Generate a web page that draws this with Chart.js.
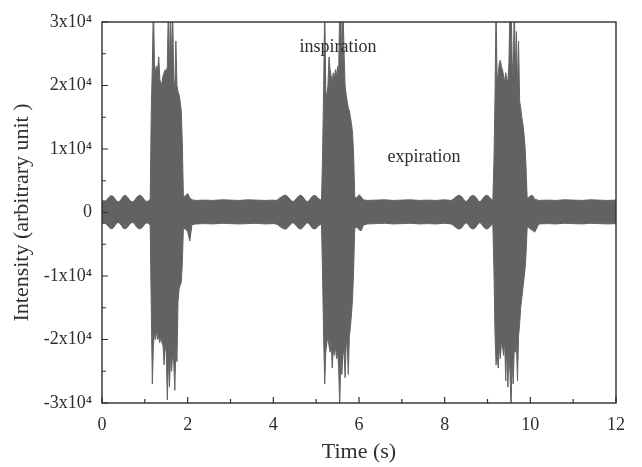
<!DOCTYPE html>
<html>
<head>
<meta charset="utf-8">
<script src="https://cdn.jsdelivr.net/npm/chart.js@4/dist/chart.umd.min.js"></script>
<style>
  html, body { margin: 0; padding: 0; background: #fff; }
  canvas { display: block; }
</style>
</head>
<body>
<canvas id="breathChart" width="642" height="467"></canvas>
<script>
// sample times (s), one line per part of the recording
const timeS = [
  0, 0.05, 0.1, 0.15, 0.2, 0.25, 0.3, 0.35, 0.4, 0.45, 0.5, 0.55, 0.6, 0.65, 0.7, 0.75, 0.8, 0.85, 0.9, 0.95, 1.0, 1.05, 1.1,
  1.125, 1.15, 1.175, 1.2, 1.225, 1.25, 1.275, 1.3, 1.325, 1.35, 1.375, 1.4, 1.425, 1.45, 1.475, 1.5, 1.525, 1.55, 1.575, 1.6, 1.625, 1.65, 1.675, 1.7, 1.725, 1.75, 1.775, 1.8, 1.825, 1.85, 1.875, 1.9,
  1.95, 2.0, 2.05, 2.1, 2.2,
  2.4, 2.6, 2.8, 3.0, 3.2, 3.4, 3.6, 3.8, 4.0,
  4.05, 4.1, 4.15, 4.2, 4.25, 4.3, 4.35, 4.4, 4.45, 4.5, 4.55, 4.6, 4.65, 4.7, 4.75, 4.8, 4.85, 4.9, 4.95, 5.0, 5.05, 5.1,
  5.125, 5.15, 5.175, 5.2, 5.225, 5.25, 5.275, 5.3, 5.325, 5.35, 5.375, 5.4, 5.425, 5.45, 5.475, 5.5, 5.525, 5.55, 5.575, 5.6, 5.625, 5.65, 5.675, 5.7, 5.725, 5.75, 5.775, 5.8, 5.825, 5.85, 5.875, 5.9,
  5.95, 6.0, 6.05, 6.1, 6.2,
  6.4, 6.6, 6.8, 7.0, 7.2, 7.4, 7.6, 7.8, 8.0,
  8.15, 8.2, 8.25, 8.3, 8.35, 8.4, 8.45, 8.5, 8.55, 8.6, 8.65, 8.7, 8.75, 8.8, 8.85, 8.9, 8.95, 9.0, 9.05, 9.1,
  9.125, 9.15, 9.175, 9.2, 9.225, 9.25, 9.275, 9.3, 9.325, 9.35, 9.375, 9.4, 9.425, 9.45, 9.475, 9.5, 9.525, 9.55, 9.575, 9.6, 9.625, 9.65, 9.675, 9.7, 9.725, 9.75, 9.775, 9.8, 9.825, 9.85, 9.875, 9.9, 9.925,
  9.95, 10.0, 10.05, 10.1, 10.2,
  10.4, 10.6, 10.8, 11.0, 11.2, 11.4, 11.6, 11.8, 12.0,
];

// upper edge of the signal
const upperEnv = [
  1900, 1800, 1900, 2300, 2650, 2600, 2200, 1700, 1700, 2100, 2600, 2700, 2400, 1900, 1650, 1800, 2300, 2650, 2700, 2400, 1900, 1700, 1900,
  2100, 16000, 23000, 33000, 23500, 22000, 23000, 22500, 24500, 21000, 20000, 20500, 21500, 22000, 22500, 22000, 23000, 33000, 22000, 32000, 23000, 32000, 21000, 19500, 27000, 20000, 19000, 18500, 17500, 16000, 11000, 2500,
  2600, 3000, 2300, 2000, 1900,
  1950, 1900, 2000, 1950, 1900, 2000, 1950, 1900, 1950,
  1900, 2000, 2300, 2500, 2700, 2700, 2400, 2000, 1700, 1900, 2300, 2650, 2700, 2400, 1900, 1700, 2000, 2500, 2700, 2600, 2200, 2000,
  2000, 9000, 20000, 33000, 19000, 18500, 20000, 24500, 22500, 21500, 20500, 22000, 21000, 22500, 21500, 23000, 22000, 33000, 33000, 22000, 33000, 25500, 20000, 18500, 17500, 16500, 16000, 15000, 14000, 12500, 9000, 2500,
  2300, 2800, 2500, 2000, 1900,
  1950, 2000, 1900, 1950, 2000, 1900, 1950, 1900, 2000,
  1900, 2100, 2400, 2650, 2700, 2500, 2000, 1700, 2000, 2500, 2700, 2600, 2200, 1700, 1800, 2300, 2650, 2700, 2400, 2000,
  2000, 8000, 18000, 33000, 20000, 22000, 23500, 24000, 23000, 22500, 21500, 20500, 22000, 21000, 20500, 23500, 33000, 33000, 24000, 21000, 33000, 22000, 28500, 19000, 27000, 17500, 16500, 15000, 14000, 12500, 10500, 7000, 2500,
  2300, 2600, 2700, 2100, 1900,
  1950, 1900, 2000, 1950, 1900, 2000, 1950, 1900, 1950,
];

// lower edge of the signal
const lowerEnv = [
  -1800, -1700, -1800, -2200, -2550, -2500, -2100, -1600, -1600, -2000, -2500, -2550, -2300, -1800, -1550, -1700, -2200, -2550, -2550, -2300, -1800, -1600, -1800,
  -2000, -15000, -27000, -21000, -19000, -20000, -18500, -20000, -19500, -20500, -19500, -20500, -21000, -24000, -21000, -22000, -29500, -23000, -27500, -22500, -25000, -22000, -23500, -28000, -21000, -23500, -14000, -12000, -11500, -11000, -8000, -2500,
  -2600, -3000, -4500, -1900, -1800,
  -1750, -1800, -1700, -1750, -1800, -1750, -1700, -1800, -1750,
  -1800, -1900, -2200, -2400, -2600, -2600, -2300, -1900, -1600, -1800, -2200, -2550, -2600, -2300, -1800, -1600, -1900, -2400, -2600, -2500, -2100, -1900,
  -2000, -10000, -20000, -27000, -22000, -20500, -19500, -21000, -22000, -20000, -24500, -21500, -22500, -21000, -23000, -22000, -24500, -30500, -23000, -25500, -22500, -21500, -26000, -21000, -20500, -25500, -19500, -18000, -16000, -13500, -9000, -2500,
  -2300, -2700, -2900, -2000, -1800,
  -1750, -1700, -1800, -1750, -1700, -1800, -1750, -1800, -1700,
  -1800, -2000, -2300, -2550, -2600, -2400, -1900, -1600, -1900, -2400, -2600, -2500, -2100, -1600, -1700, -2200, -2550, -2600, -2300, -1900,
  -2000, -9000, -19000, -24000, -22000, -24500, -21000, -23000, -20500, -21000, -22500, -20000, -26500, -21000, -27500, -22500, -25000, -31000, -23000, -27000, -21500, -22000, -20500, -26500, -19500, -17500, -15000, -13500, -12000, -10500, -9000, -6500, -2500,
  -2300, -2600, -2800, -3100, -1800,
  -1750, -1800, -1700, -1750, -1800, -1700, -1750, -1800, -1750,
];

const xTickValues = [0, 2, 4, 6, 8, 10, 12];
const yTickValues = [-30000, -20000, -10000, 0, 10000, 20000, 30000];

const SERIF = '"Liberation Serif", "Times New Roman", serif';
const WAVE_GREY = '#626262';
const INK = '#2e2e2e';

const ctx = document.getElementById('breathChart').getContext('2d');

// frame, inward tick marks and the two labels inside the plot
const framePlugin = {
  id: 'frame',
  afterDraw(chart) {
    const { ctx: c, chartArea: { left, right, top, bottom }, scales: { x, y } } = chart;
    c.save();
    c.strokeStyle = INK;
    c.lineWidth = 1.4;
    c.strokeRect(left, top, right - left, bottom - top);

    c.lineWidth = 1.2;
    c.beginPath();
    for (let t = 0; t <= 12; t += 1) {
      const px = x.getPixelForValue(t);
      const len = t % 2 === 0 ? 6 : 4;
      c.moveTo(px, bottom);
      c.lineTo(px, bottom - len);
    }
    for (let v = -30000; v <= 30000; v += 5000) {
      const py = y.getPixelForValue(v);
      const len = v % 10000 === 0 ? 6 : 4;
      c.moveTo(left, py);
      c.lineTo(left + len, py);
    }
    c.stroke();

    c.fillStyle = INK;
    c.font = `18px ${SERIF}`;
    c.textAlign = 'center';
    c.textBaseline = 'middle';
    c.fillText('inspiration', x.getPixelForValue(5.51), y.getPixelForValue(26000));
    c.fillText('expiration', x.getPixelForValue(7.52), y.getPixelForValue(8700));
    c.restore();
  },
};

const chart = new Chart(ctx, {
  type: 'line',
  data: {
    datasets: [
      {
        data: timeS.map((t, i) => ({ x: t, y: upperEnv[i] })),
        borderColor: WAVE_GREY,
        backgroundColor: WAVE_GREY,
        borderWidth: 1,
        pointRadius: 0,
        tension: 0,
        fill: '+1',
      },
      {
        data: timeS.map((t, i) => ({ x: t, y: lowerEnv[i] })),
        borderColor: WAVE_GREY,
        borderWidth: 1,
        pointRadius: 0,
        tension: 0,
        fill: false,
      },
    ],
  },
  options: {
    responsive: false,
    animation: false,
    devicePixelRatio: 1,
    layout: { padding: { top: 22, right: 26, left: 0, bottom: 0 } },
    plugins: {
      legend: { display: false },
      tooltip: { enabled: false },
    },
    scales: {
      x: {
        type: 'linear',
        min: 0,
        max: 12,
        afterBuildTicks: (scale) => { scale.ticks = xTickValues.map((v) => ({ value: v })); },
        afterFit: (scale) => { scale.height = 64; },
        grid: { display: false, drawTicks: false },
        border: { display: false },
        ticks: {
          color: INK,
          padding: 11,
          maxRotation: 0,
          font: { family: SERIF, size: 18 },
        },
        title: {
          display: true,
          text: 'Time (s)',
          color: INK,
          padding: { top: 0, bottom: 2 },
          font: { family: SERIF, size: 22 },
        },
      },
      y: {
        type: 'linear',
        min: -30000,
        max: 30000,
        afterBuildTicks: (scale) => { scale.ticks = yTickValues.map((v) => ({ value: v })); },
        afterFit: (scale) => { scale.width = 102; },
        grid: { display: false, drawTicks: false },
        border: { display: false },
        ticks: {
          color: INK,
          padding: 10,
          font: { family: SERIF, size: 18 },
          callback: (v) => (v === 0 ? '0' : `${v / 10000}x10\u2074`),
        },
        title: {
          display: true,
          text: 'Intensity (arbitrary unit )',
          color: INK,
          padding: { top: 9, bottom: 0 },
          font: { family: SERIF, size: 22 },
        },
      },
    },
  },
  plugins: [framePlugin],
});
</script>
</body>
</html>
